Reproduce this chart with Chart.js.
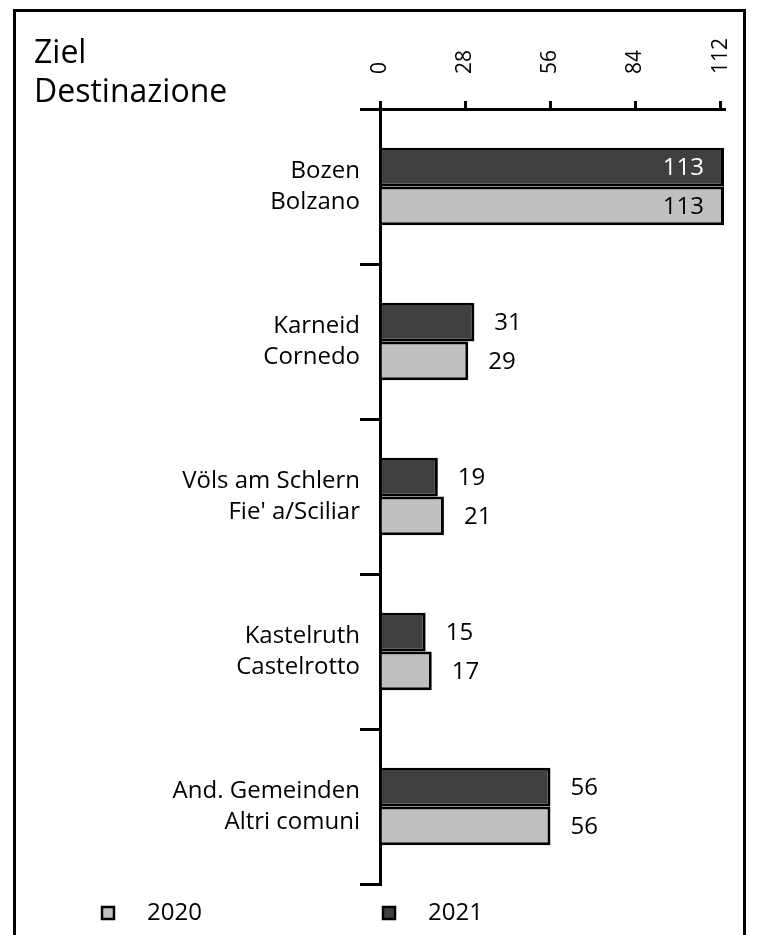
<!DOCTYPE html>
<html>
<head>
<meta charset="utf-8">
<script src="https://cdn.jsdelivr.net/npm/chart.js@4/dist/chart.umd.min.js"></script>
<style>
  html, body { margin: 0; padding: 0; background: #fff; }
  #wrap { width: 766px; height: 935px; }
</style>
</head>
<body>
<div id="wrap"><canvas id="destChart" width="766" height="935"></canvas></div>
<script>
// Ziel / Destinazione
const categories = [
  ["Bozen", "Bolzano"],
  ["Karneid", "Cornedo"],
  ["Völs am Schlern", "Fie' a/Sciliar"],
  ["Kastelruth", "Castelrotto"],
  ["And. Gemeinden", "Altri comuni"]
];
const values2021 = [113, 31, 19, 15, 56];
const values2020 = [113, 29, 21, 17, 56];
const tickValues = [0, 28, 56, 84, 112];
const axisMax = 113;

const FONT = "'Open Sans', 'DejaVu Sans', sans-serif";

// frame + heading
const framePlugin = {
  id: "frame",
  beforeDraw(chart) {
    const ctx = chart.ctx;
    ctx.save();
    ctx.strokeStyle = "#000";
    ctx.lineWidth = 3;
    ctx.strokeRect(14.5, 10.5, 730, 1000);
    ctx.fillStyle = "#000";
    ctx.font = "32px " + FONT;
    ctx.textAlign = "left";
    ctx.textBaseline = "alphabetic";
    ctx.fillText("Ziel", 34, 63);
    ctx.fillText("Destinazione", 34, 102);
    ctx.restore();
  }
};

// value labels next to / inside bars
const valueLabels = {
  id: "valueLabels",
  afterDatasetsDraw(chart) {
    const ctx = chart.ctx;
    ctx.save();
    ctx.font = "24px " + FONT;
    ctx.textBaseline = "middle";
    chart.data.datasets.forEach((ds, i) => {
      const meta = chart.getDatasetMeta(i);
      meta.data.forEach((bar, j) => {
        const txt = String(ds.data[j]);
        if (bar.x + 70 > chart.chartArea.right) {
          ctx.textAlign = "right";
          ctx.fillStyle = ds.labelInside;
          ctx.fillText(txt, bar.x - 20, bar.y + 1);
        } else {
          ctx.textAlign = "left";
          ctx.fillStyle = "#000";
          ctx.fillText(txt, bar.x + 20, bar.y + 1);
        }
      });
    });
    ctx.restore();
  }
};

// legend at the bottom (2020 first, then 2021)
const bottomLegend = {
  id: "bottomLegend",
  afterDraw(chart) {
    const ctx = chart.ctx;
    const items = chart.data.datasets.slice().reverse();
    const starts = [102, 383];
    ctx.save();
    ctx.font = "24px " + FONT;
    ctx.textBaseline = "middle";
    ctx.textAlign = "left";
    items.forEach((ds, k) => {
      const x = starts[k], y = 913;
      ctx.fillStyle = ds.backgroundColor;
      ctx.fillRect(x, y - 6, 12, 12);
      ctx.lineWidth = 2.5;
      ctx.strokeStyle = "#000";
      ctx.strokeRect(x, y - 6, 12, 12);
      ctx.fillStyle = "#000";
      ctx.fillText(ds.label, x + 45, y);
    });
    ctx.restore();
  }
};

new Chart(document.getElementById("destChart"), {
  type: "bar",
  data: {
    labels: categories,
    datasets: [
      {
        label: "2021",
        data: values2021,
        backgroundColor: "#404040",
        borderColor: "#000",
        borderWidth: 3,
        labelInside: "#fff",
        categoryPercentage: 0.5,
        barPercentage: 1.0
      },
      {
        label: "2020",
        data: values2020,
        backgroundColor: "#c0c0c0",
        borderColor: "#000",
        borderWidth: 3,
        labelInside: "#000",
        categoryPercentage: 0.5,
        barPercentage: 1.0
      }
    ]
  },
  options: {
    indexAxis: "y",
    responsive: false,
    animation: false,
    layout: { padding: { left: 0, top: 0, right: 42, bottom: 51 } },
    plugins: {
      legend: { display: false },
      tooltip: { enabled: false },
      title: { display: false }
    },
    scales: {
      x: {
        position: "top",
        min: 0,
        max: axisMax,
        afterBuildTicks: s => { s.ticks = tickValues.map(v => ({ value: v })); },
        afterFit: s => { s.height = 109; },
        ticks: {
          minRotation: 90,
          maxRotation: 90,
          padding: 27,
          color: "#000",
          font: { family: FONT, size: 21, lineHeight: 0.01 }
        },
        grid: { drawOnChartArea: false, drawTicks: true, tickLength: 8, lineWidth: 3, color: "#000" },
        border: { display: true, width: 3, color: "#000" }
      },
      y: {
        afterFit: s => { s.width = 380; },
        ticks: {
          padding: 0,
          color: "#000",
          font: { family: FONT, size: 24, lineHeight: 1.3 }
        },
        grid: { offset: true, drawOnChartArea: false, drawTicks: true, tickLength: 20, lineWidth: 3, color: "#000" },
        border: { display: true, width: 3, color: "#000" }
      }
    }
  },
  plugins: [framePlugin, valueLabels, bottomLegend]
});
</script>
</body>
</html>
